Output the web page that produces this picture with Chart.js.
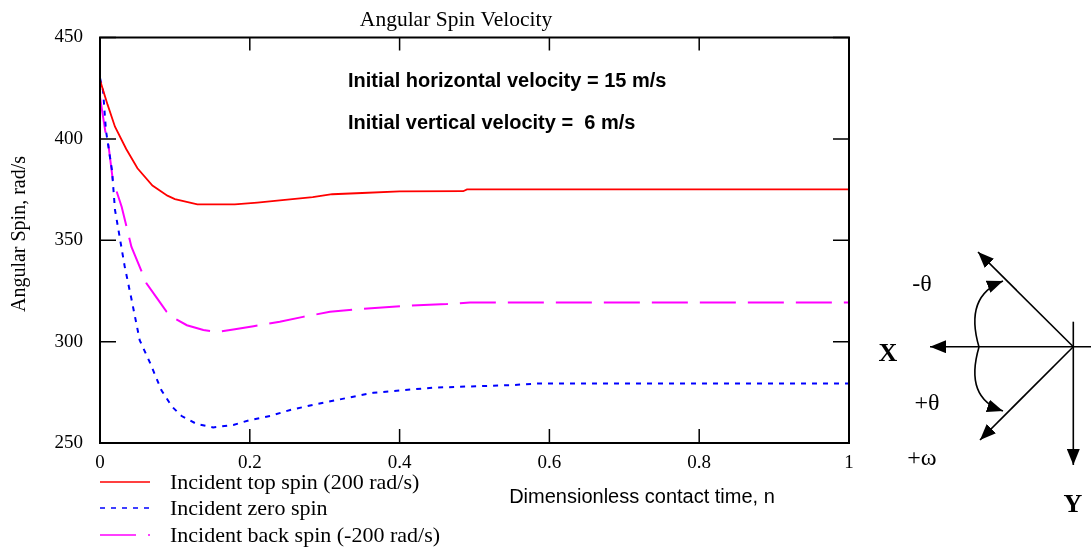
<!DOCTYPE html>
<html>
<head>
<meta charset="utf-8">
<title>Angular Spin Velocity</title>
<script src="https://cdn.jsdelivr.net/npm/chart.js@4.4.1/dist/chart.umd.min.js"></script>
<style>
  html, body { margin: 0; padding: 0; background: #fff; }
  #wrap { position: relative; width: 1091px; height: 552px; }
  #chart { position: absolute; left: 0; top: 0; }
  #diagram { position: absolute; left: 0; top: 0; pointer-events: none; }
  #diagram text { font-family: "Liberation Serif", "DejaVu Serif", serif; }
</style>
</head>
<body>
<div id="wrap">
  <canvas id="chart" width="1091" height="552"></canvas>
  <svg id="diagram" width="1091" height="552" viewBox="0 0 1091 552">
    <defs>
      <marker id="head" markerUnits="userSpaceOnUse" markerWidth="17" markerHeight="13"
              refX="16" refY="6.5" orient="auto">
        <path d="M0,0 L16,6.5 L0,13 z" fill="#000"/>
      </marker>
    </defs>
    <g stroke="#000" stroke-width="1.6" fill="none">
      <line x1="1091" y1="346.7" x2="930" y2="346.7" marker-end="url(#head)"/>
      <line x1="1073.3" y1="321.7" x2="1073.3" y2="465" marker-end="url(#head)"/>
      <line x1="1073.3" y1="346.7" x2="978" y2="252" marker-end="url(#head)"/>
      <line x1="1073.3" y1="346.7" x2="980" y2="440" marker-end="url(#head)"/>
      <path d="M979,347 Q964,296 1003,281" marker-end="url(#head)"/>
      <path d="M979,347 Q964,398 1003,411" marker-end="url(#head)"/>
    </g>
    <g fill="#000" text-anchor="middle" dominant-baseline="central">
      <text x="922" y="283" font-size="24">-θ</text>
      <text x="888" y="352" font-size="26" font-weight="bold">X</text>
      <text x="927" y="402" font-size="24">+θ</text>
      <text x="922" y="457" font-size="24">+ω</text>
      <text x="1073" y="503" font-size="26" font-weight="bold">Y</text>
    </g>
  </svg>
</div>
<script>
// ---------- data ----------
const TOP_X  = [0, 0.01, 0.02, 0.035, 0.05, 0.07, 0.09, 0.10, 0.13, 0.18, 0.21, 0.24, 0.284, 0.31, 0.35, 0.40, 0.485, 0.49, 1.0];
const TOP_Y  = [429, 417, 406, 395, 385.5, 377, 372, 370.3, 367.7, 367.7, 368.6, 369.7, 371.3, 372.7, 373.3, 374.1, 374.2, 375.1, 375.1];

const ZERO_X = [0, 0.004, 0.008, 0.016, 0.02, 0.027, 0.033, 0.042, 0.053, 0.067, 0.082, 0.096, 0.109, 0.129, 0.151, 0.178, 0.2, 0.227, 0.254, 0.289, 0.316, 0.365, 0.445, 0.552, 0.587, 1.0];
const ZERO_Y = [430, 424, 404, 384.5, 365, 350, 337, 321, 300.7, 289.4, 276, 268, 263.3, 259.4, 257.7, 258.9, 261.3, 263.3, 266.3, 269.2, 271.2, 274.8, 277.3, 278.6, 279.4, 279.4];

const BACK_X = [0, 0.007, 0.011, 0.017, 0.029, 0.042, 0.062, 0.077, 0.089, 0.10, 0.116, 0.138, 0.156, 0.178, 0.205, 0.24, 0.271, 0.307, 0.338, 0.405, 0.463, 0.494, 1.0];
const BACK_Y = [420.6, 404, 397.8, 380, 366.4, 346.7, 328.8, 321, 314.7, 311.4, 308.1, 305.7, 304.8, 306, 307.6, 309.8, 312.2, 314.7, 315.8, 317.6, 318.5, 319.3, 319.3];

const SERIES_LABELS = [
  "Incident top spin (200 rad/s)",
  "Incident zero spin",
  "Incident back spin (-200 rad/s)",
];

const X_TICKS = [0, 0.2, 0.4, 0.6, 0.8, 1];
const Y_TICKS = [250, 300, 350, 400, 450];

// ---------- styling ----------
const SERIF = '"Liberation Serif", "Times New Roman", serif';
const SANS  = '"Liberation Sans", Arial, sans-serif';

const pts = (xs, ys) => xs.map((x, i) => ({ x, y: ys[i] }));

const datasets = [
  { label: SERIES_LABELS[0], data: pts(TOP_X, TOP_Y),   borderColor: '#ff0000', borderWidth: 1.8, borderDash: [] },
  { label: SERIES_LABELS[1], data: pts(ZERO_X, ZERO_Y), borderColor: '#0000ff', borderWidth: 2,   borderDash: [5, 6] },
  { label: SERIES_LABELS[2], data: pts(BACK_X, BACK_Y), borderColor: '#ff00ff', borderWidth: 2,   borderDash: [36, 12] },
].map(d => ({ ...d, pointRadius: 0, tension: 0, fill: false }));

// frame, inward ticks, texts and legend
const decor = {
  id: 'decor',
  afterDraw(chart) {
    const { ctx, chartArea: a, scales } = chart;
    ctx.save();
    ctx.strokeStyle = '#000';

    // inward ticks on every side
    ctx.lineWidth = 1.5;
    ctx.beginPath();
    X_TICKS.forEach(v => {
      const px = scales.x.getPixelForValue(v);
      ctx.moveTo(px, a.bottom); ctx.lineTo(px, a.bottom - 14);
      ctx.moveTo(px, a.top);    ctx.lineTo(px, a.top + 13);
    });
    Y_TICKS.forEach(v => {
      const py = scales.y.getPixelForValue(v);
      ctx.moveTo(a.left, py);  ctx.lineTo(a.left + 16, py);
      ctx.moveTo(a.right, py); ctx.lineTo(a.right - 16, py);
    });
    ctx.stroke();

    // frame
    ctx.lineWidth = 2;
    ctx.strokeRect(a.left, a.top, a.right - a.left, a.bottom - a.top);

    ctx.fillStyle = '#000';
    // title
    ctx.font = '21.5px ' + SERIF;
    ctx.textAlign = 'center';
    ctx.textBaseline = 'alphabetic';
    ctx.fillText('Angular Spin Velocity', 456, 26);

    // notes inside plot
    ctx.font = 'bold 20px ' + SANS;
    ctx.textAlign = 'left';
    ctx.fillText('Initial horizontal velocity = 15 m/s', 348, 87);
    ctx.fillText('Initial vertical velocity =  6 m/s', 348, 129);

    // x title
    ctx.font = '20px ' + SANS;
    ctx.textAlign = 'center';
    ctx.textBaseline = 'middle';
    ctx.fillText('Dimensionless contact time, n', 642, 497);

    // y title
    ctx.save();
    ctx.translate(20, 234);
    ctx.rotate(-Math.PI / 2);
    ctx.font = '20px ' + SERIF;
    ctx.fillText('Angular Spin, rad/s', 0, 0);
    ctx.restore();

    // legend
    const rows = [482, 508, 535];
    chart.data.datasets.forEach((ds, i) => {
      const y = rows[i];
      ctx.save();
      ctx.strokeStyle = ds.borderColor;
      ctx.lineWidth = 1.6;
      ctx.setLineDash(ds.borderDash);
      ctx.beginPath();
      ctx.moveTo(100, y); ctx.lineTo(150, y);
      ctx.stroke();
      ctx.restore();
      ctx.font = '22px ' + SERIF;
      ctx.textAlign = 'left';
      ctx.textBaseline = 'middle';
      ctx.fillText(ds.label, 170, y + 1);
    });
    ctx.restore();
  }
};

new Chart(document.getElementById('chart'), {
  type: 'line',
  data: { datasets },
  options: {
    responsive: false,
    animation: false,
    layout: { padding: { left: 0, top: 37.5, right: 242, bottom: 69 } },
    plugins: { legend: { display: false }, title: { display: false }, tooltip: { enabled: false } },
    scales: {
      x: {
        type: 'linear', min: 0, max: 1,
        grid: { display: false, drawTicks: false },
        border: { display: false },
        afterFit: (s) => { s.height = 40; },
        afterBuildTicks: (s) => { s.ticks = X_TICKS.map(v => ({ value: v })); },
        ticks: {
          padding: 9, color: '#000', maxRotation: 0,
          font: { family: SERIF, size: 19 },
          callback: (v) => String(Number(v.toFixed(1))),
        },
      },
      y: {
        type: 'linear', min: 250, max: 450,
        grid: { display: false, drawTicks: false },
        border: { display: false },
        afterFit: (s) => { s.width = 100; },
        afterBuildTicks: (s) => { s.ticks = Y_TICKS.map(v => ({ value: v })); },
        ticks: {
          padding: 17, color: '#000',
          font: { family: SERIF, size: 19 },
        },
      },
    },
  },
  plugins: [decor],
});
</script>
</body>
</html>
